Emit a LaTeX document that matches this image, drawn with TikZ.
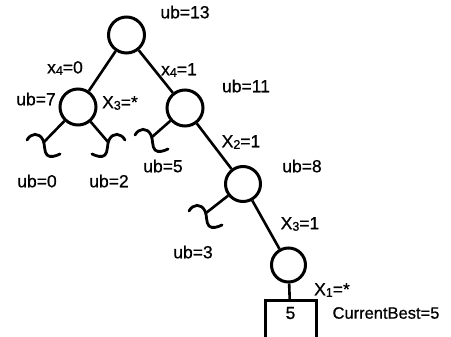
\documentclass[tikz,border=0pt]{standalone}
\usepackage{fontspec}
\setmainfont{Liberation Sans}
\newfontfamily\lblfont{Liberation Sans}[FakeBold=0.7]
\newcommand\subdig[1]{\raisebox{-1.5pt}{\fontsize{12.5}{14}\selectfont #1}}
\begin{document}
\begin{tikzpicture}[x=1pt,y=-1pt,
  every node/.style={font=\lblfont\fontsize{17.5}{20}\selectfont},
  treenode/.style={circle,draw,line width=3pt,minimum size=36pt,inner sep=0pt},
  edge/.style={line width=2.6pt},
  lbl/.style={inner sep=0pt},
  squig/.pic={\draw[line width=2.8pt,line cap=round]
     (-17,-2) .. controls (-13,-9) and (-5,-10) .. (-1,-2)
     .. controls (1,2) and (0,10) .. (3,13)
     .. controls (6,16) and (12,14) .. (16,12);}
]
\useasboundingbox (0,0) rectangle (451,337);
\clip (0,0) rectangle (451,337);
% nodes
\node[treenode] (r) at (126.5,35) {};
\node[treenode] (a) at (78,107) {};
\node[treenode] (b) at (185,108) {};
\node[treenode,minimum size=35pt] (c) at (243,184) {};
\node[treenode,minimum size=34pt] (d) at (288.5,265) {};
\node[draw,line width=3pt,minimum width=51pt,inner xsep=0pt,inner ysep=6pt,
      text height=12pt,text depth=18pt] (leaf) at (290.5,322) {5};
% squiggle junctions
\coordinate (j1) at (44,142);
\coordinate (j2) at (108,142);
\coordinate (j3) at (152,137);
\coordinate (j4) at (206,213);
% edges
\draw[edge] (r) -- (a);
\draw[edge] (r) -- (b);
\draw[edge] (b) -- (c);
\draw[edge] (c) -- (d);
\draw[edge] (d) -- (leaf);
\draw[edge] (a) -- (j1);
\draw[edge] (a) -- (j2);
\draw[edge] (b) -- (j3);
\draw[edge] (c) -- (j4);
\pic at (j1) {squig};
\pic[xscale=-1] at (j2) {squig};
\pic at (j3) {squig};
\pic at (j4) {squig};
% labels
\node[lbl] (l13) at (185,12) {ub=13};
\node[lbl] (lx40) at (65,68) {x\subdig{4}=0};
\node[lbl] (lx41) at (179,70) {x\subdig{4}=1};
\node[lbl] (l7) at (36,99) {ub=7};
\node[lbl] (lx3s) at (120,103) {X\subdig{3}=*};
\node[lbl] (l11) at (246,86) {ub=11};
\node[lbl] (lx21) at (241,142) {X\subdig{2}=1};
\node[lbl] (l5) at (163,166) {ub=5};
\node[lbl] (l0) at (37,181) {ub=0};
\node[lbl] (l2) at (109,181) {ub=2};
\node[lbl] (l3) at (193,252) {ub=3};
\node[lbl] (l8) at (302,166) {ub=8};
\node[lbl] (lx31) at (300,224) {X\subdig{3}=1};
\node[lbl] (lx1s) at (332,290) {X\subdig{1}=*};
\node[lbl,font=\lblfont\fontsize{16.5}{20}\selectfont] (cb) at (386,313) {CurrentBest=5};
\end{tikzpicture}
\end{document}
